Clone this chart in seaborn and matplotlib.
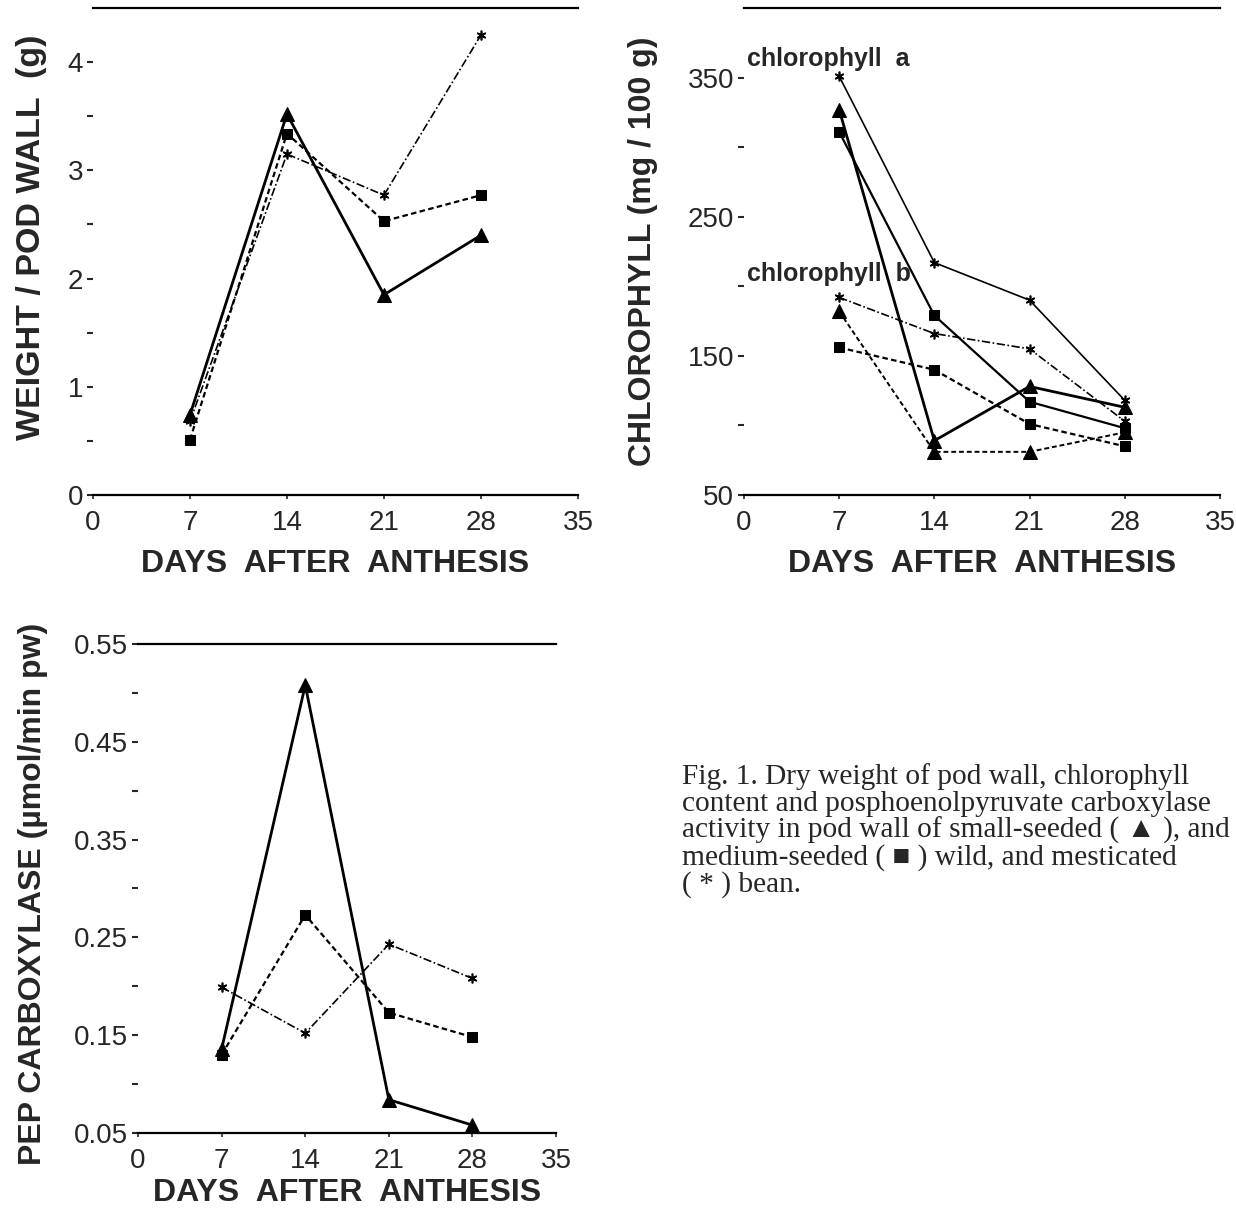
import numpy as np
import pandas as pd
import matplotlib
matplotlib.use("Agg")
import matplotlib.pyplot as plt
import seaborn as sns

# dados
dias = [7, 14, 21, 28]

# peso seco da parede da vagem (g)
peso_pequena = [0.74, 3.52, 1.85, 2.40]
peso_media = [0.51, 3.34, 2.53, 2.77]
peso_domest = [0.68, 3.15, 2.77, 4.25]

# clorofila a (mg / 100 g)
cla_pequena = [327, 89, 128, 113]
cla_media = [311, 179, 117, 98]
cla_domest = [351, 217, 190, 118]

# clorofila b (mg / 100 g)
clb_pequena = [182, 81, 81, 95]
clb_media = [156, 140, 101, 85]
clb_domest = [192, 166, 155, 103]

# PEP carboxilase (umol/min pw)
pep_pequena = [0.136, 0.508, 0.084, 0.058]
pep_media = [0.130, 0.273, 0.173, 0.148]
pep_domest = [0.199, 0.152, 0.243, 0.208]

x_ticks = [0, 7, 14, 21, 28, 35]

sns.set_style("white")
plt.rcParams["font.family"] = ["Liberation Sans", "DejaVu Sans"]

estilo_tri = dict(marker="^", markersize=10, linestyle="-", linewidth=2.0)
estilo_quad = dict(marker="s", markersize=7, linestyle=(0, (2.5, 1.5)), linewidth=1.6)
estilo_ast = dict(marker=(6, 2, 0), markersize=7, markeredgewidth=1.2,
                  linestyle=(0, (5, 1.5, 1, 1.5)), linewidth=1.2)

fig = plt.figure(figsize=(12.36, 12.09), dpi=100)
ax1 = fig.add_axes([0.0752, 0.5906, 0.3924, 0.4028])
ax2 = fig.add_axes([0.6019, 0.5906, 0.3851, 0.4028])
ax3 = fig.add_axes([0.1117, 0.0629, 0.3382, 0.4044])


def linha(ax, y, estilo):
    df = pd.DataFrame({"dia": dias, "valor": y})
    sns.lineplot(data=df, x="dia", y="valor", ax=ax, color="black",
                 markeredgecolor="black", **estilo)


def formatar(ax, ylim, yticks, ylabels, yminor, ylabel, lcx, lcy, yfs=23):
    ax.set_xlim(0, 35)
    ax.set_ylim(*ylim)
    ax.set_xticks(x_ticks)
    ax.set_xticklabels([str(t) for t in x_ticks], fontsize=20)
    ax.set_yticks(yticks)
    ax.set_yticklabels(ylabels, fontsize=20)
    ax.set_yticks(yminor, minor=True)
    ax.tick_params(axis="x", direction="out", length=3, width=1.2, pad=8, bottom=True)
    ax.tick_params(axis="y", which="both", direction="out", length=4,
                   width=1.5, pad=3, left=True)
    for lado in ["left", "right"]:
        ax.spines[lado].set_visible(False)
    for lado in ["top", "bottom"]:
        ax.spines[lado].set_linewidth(1.6)
        ax.spines[lado].set_color("black")
    ax.set_xlabel("DAYS  AFTER  ANTHESIS", fontsize=23, fontweight="bold")
    ax.xaxis.set_label_coords(0.5, -0.11)
    ax.set_ylabel(ylabel, fontsize=yfs, fontweight="bold")
    ax.yaxis.set_label_coords(lcx, lcy)


# painel 1: peso
linha(ax1, peso_domest, estilo_ast)
linha(ax1, peso_media, estilo_quad)
linha(ax1, peso_pequena, estilo_tri)
formatar(ax1, (0, 4.5), [0, 1, 2, 3, 4], ["0", "1", "2", "3", "4"],
         [0.5, 1.5, 2.5, 3.5], "WEIGHT / POD WALL  (g)", -0.095, 0.53, yfs=24.5)

# painel 2: clorofila
linha(ax2, cla_domest, {**estilo_ast, "linestyle": "-"})
linha(ax2, cla_media, {**estilo_quad, "linestyle": "-"})
linha(ax2, cla_pequena, estilo_tri)
linha(ax2, clb_domest, estilo_ast)
linha(ax2, clb_media, estilo_quad)
linha(ax2, clb_pequena, {**estilo_tri, "linestyle": (0, (2.5, 1.5)), "linewidth": 1.4})
ax2.text(0.2, 363, "chlorophyll  a", fontsize=18, fontweight="bold", va="center")
ax2.text(0.2, 209, "chlorophyll  b", fontsize=18, fontweight="bold", va="center")
formatar(ax2, (50, 400), [50, 150, 250, 350], ["50", "150", "250", "350"],
         [100, 200, 300], "CHLOROPHYLL (mg / 100 g)", -0.18, 0.5)

# painel 3: PEP carboxilase
linha(ax3, pep_domest, estilo_ast)
linha(ax3, pep_media, estilo_quad)
linha(ax3, pep_pequena, estilo_tri)
formatar(ax3, (0.05, 0.55), [0.05, 0.15, 0.25, 0.35, 0.45, 0.55],
         ["0.05", "0.15", "0.25", "0.35", "0.45", "0.55"],
         [0.10, 0.20, 0.30, 0.40, 0.50], "PEP CARBOXYLASE (µmol/min pw)", -0.215, 0.49)
ax3.xaxis.set_label_coords(0.5, -0.092)

# legenda da figura
legenda = [
    "Fig. 1. Dry weight of pod wall, chlorophyll",
    "content and posphoenolpyruvate carboxylase",
    "activity in pod wall of small-seeded ( ▲ ), and",
    "medium-seeded ( ■ ) wild, and mesticated",
    "( * ) bean.",
]
for i, texto in enumerate(legenda):
    fig.text(0.5518, 1 - (784 + 27 * i) / 1209, texto, fontsize=21.2,
             family=["Liberation Serif", "DejaVu Sans"], va="baseline", ha="left")

fig.savefig("out.png", dpi=100)
